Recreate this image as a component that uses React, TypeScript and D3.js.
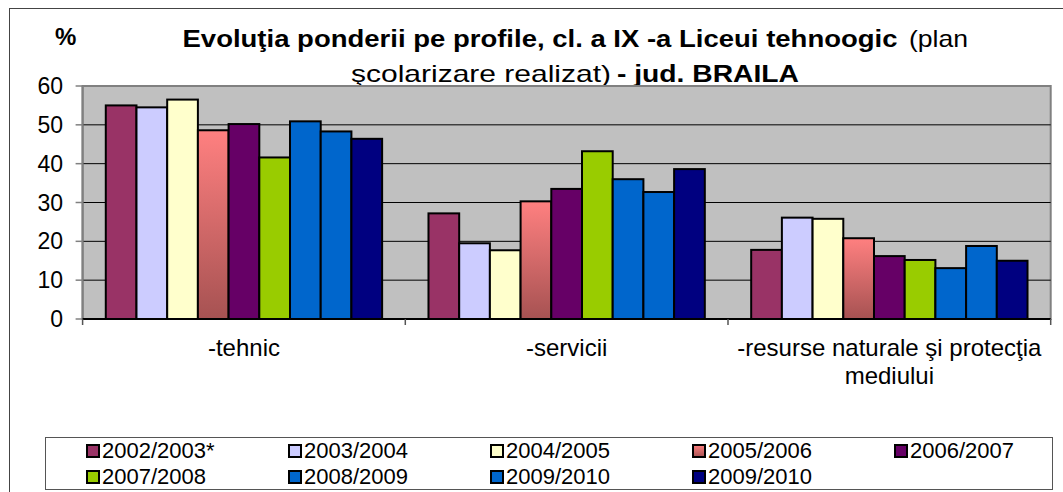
import * as d3 from "d3";

const categories = ["-tehnic", "-servicii", "-resurse naturale şi protecţia mediului"];
const seriesNames = [
  "2002/2003*", "2003/2004", "2004/2005", "2005/2006", "2006/2007",
  "2007/2008", "2008/2009", "2009/2010", "2009/2010",
];
// one row per series, one value per category
const values = [
  [55.0, 27.2, 17.8],
  [54.5, 19.5, 26.1],
  [56.5, 17.7, 25.8],
  [48.6, 30.3, 20.8],
  [50.2, 33.5, 16.2],
  [41.6, 43.2, 15.2],
  [50.9, 36.0, 13.1],
  [48.3, 32.7, 18.8],
  [46.4, 38.6, 15.0],
];
const yTicks = [0, 10, 20, 30, 40, 50, 60];
const colors = [
  "#993366", "#CCCCFF", "#FFFFCC", "url(#pinkGrad)", "#660066",
  "#99CC00", "#0066CC", "#0066CC", "#000080",
];

const W = 1063;
const H = 492;
const plot = { left: 82.6, right: 1050.7, top: 86, bottom: 319 };
const FONT = "'Liberation Sans', Arial, sans-serif";

export default function App() {
  const x0 = d3.scaleBand<string>().domain(categories).range([plot.left, plot.right]).padding(0);
  const x1 = d3
    .scaleBand<number>()
    .domain(d3.range(seriesNames.length))
    .range([0, x0.bandwidth()])
    .paddingInner(0)
    .paddingOuter(0.755);
  const y = d3.scaleLinear().domain([0, 60]).range([plot.bottom, plot.top]);

  const catLines = (c: string) =>
    c.startsWith("-resurse") ? ["-resurse naturale şi protecţia", "mediului"] : [c];

  return (
    <svg
      width={W}
      height={H}
      style={{ position: "absolute", left: 0, top: 0, background: "#fff", whiteSpace: "pre" }}
      fontFamily={FONT}
    >
      <defs>
        <linearGradient id="pinkGrad" x1="0" y1="0" x2="0" y2="1">
          <stop offset="0" stopColor="#FF8080" />
          <stop offset="1" stopColor="#A65252" />
        </linearGradient>
      </defs>

      {/* chart area border */}
      <rect x={9.5} y={8.5} width={1200} height={600} fill="#fff" stroke="#444" />

      {/* title, glyphs stretched like the original export */}
      <text x={55} y={45} fontSize={24} fontWeight="bold">%</text>
      <text x={182.5} y={47} fontSize={24} fontWeight="bold" textLength={715} lengthAdjust="spacingAndGlyphs">
        Evoluţia ponderii pe profile, cl. a IX -a  Liceui tehnoogic
      </text>
      <text x={909} y={47} fontSize={24} textLength={59} lengthAdjust="spacingAndGlyphs">(plan</text>
      <text x={351} y={82} fontSize={24} textLength={260} lengthAdjust="spacingAndGlyphs">şcolarizare realizat)</text>
      <text x={617} y={82} fontSize={24} fontWeight="bold" textLength={182} lengthAdjust="spacingAndGlyphs">
        - jud. BRAILA
      </text>

      {/* plot area */}
      <rect
        x={plot.left}
        y={plot.top}
        width={plot.right - plot.left}
        height={plot.bottom - plot.top}
        fill="#C0C0C0"
        stroke="#808080"
        strokeWidth={2}
      />
      {yTicks.slice(1, -1).map((t) => (
        <line key={t} x1={plot.left} x2={plot.right} y1={y(t)} y2={y(t)} stroke="#000" strokeWidth={1} />
      ))}

      {/* y axis */}
      <line x1={plot.left} x2={plot.left} y1={plot.top} y2={plot.bottom} stroke="#808080" strokeWidth={2} />
      {yTicks.map((t) => (
        <g key={t}>
          <line x1={plot.left - 7} x2={plot.left} y1={y(t)} y2={y(t)} stroke="#808080" strokeWidth={1.5} />
          <text x={63} y={y(t) + 8} fontSize={23} textAnchor="end">{t}</text>
        </g>
      ))}

      {/* bars */}
      {categories.map((c, ci) => (
        <g key={c} transform={`translate(${x0(c)},0)`}>
          {values.map((row, si) => (
            <rect
              key={si}
              x={x1(si)}
              y={y(row[ci])}
              width={x1.bandwidth()}
              height={y(0) - y(row[ci])}
              fill={colors[si]}
              stroke="#000"
              strokeWidth={2}
            />
          ))}
        </g>
      ))}

      {/* x axis */}
      <line x1={plot.left} x2={plot.right} y1={plot.bottom} y2={plot.bottom} stroke="#000" strokeWidth={2} />
      {[...categories.map((c) => x0(c) as number), plot.right].map((xv, i) => (
        <line key={i} x1={xv} x2={xv} y1={plot.bottom} y2={plot.bottom + 6} stroke="#555" strokeWidth={1.5} />
      ))}
      {categories.map((c) => (
        <text key={c} x={(x0(c) as number) + x0.bandwidth() / 2} y={356} fontSize={24} textAnchor="middle">
          {catLines(c).map((l, i) => (
            <tspan key={i} x={(x0(c) as number) + x0.bandwidth() / 2} dy={i === 0 ? 0 : 28}>
              {l}
            </tspan>
          ))}
        </text>
      ))}

      {/* legend */}
      <rect x={45.5} y={437.5} width={1007} height={52} fill="#fff" stroke="#555" />
      {seriesNames.map((s, i) => {
        const col = i % 5;
        const row = Math.floor(i / 5);
        const lx = 87 + col * 202;
        const ly = 458 + row * 26;
        return (
          <g key={i}>
            <rect x={lx} y={ly - 13} width={12} height={12} fill={colors[i]} stroke="#000" strokeWidth={2} />
            <text x={lx + 15} y={ly} fontSize={22}>{s}</text>
          </g>
        );
      })}
    </svg>
  );
}
